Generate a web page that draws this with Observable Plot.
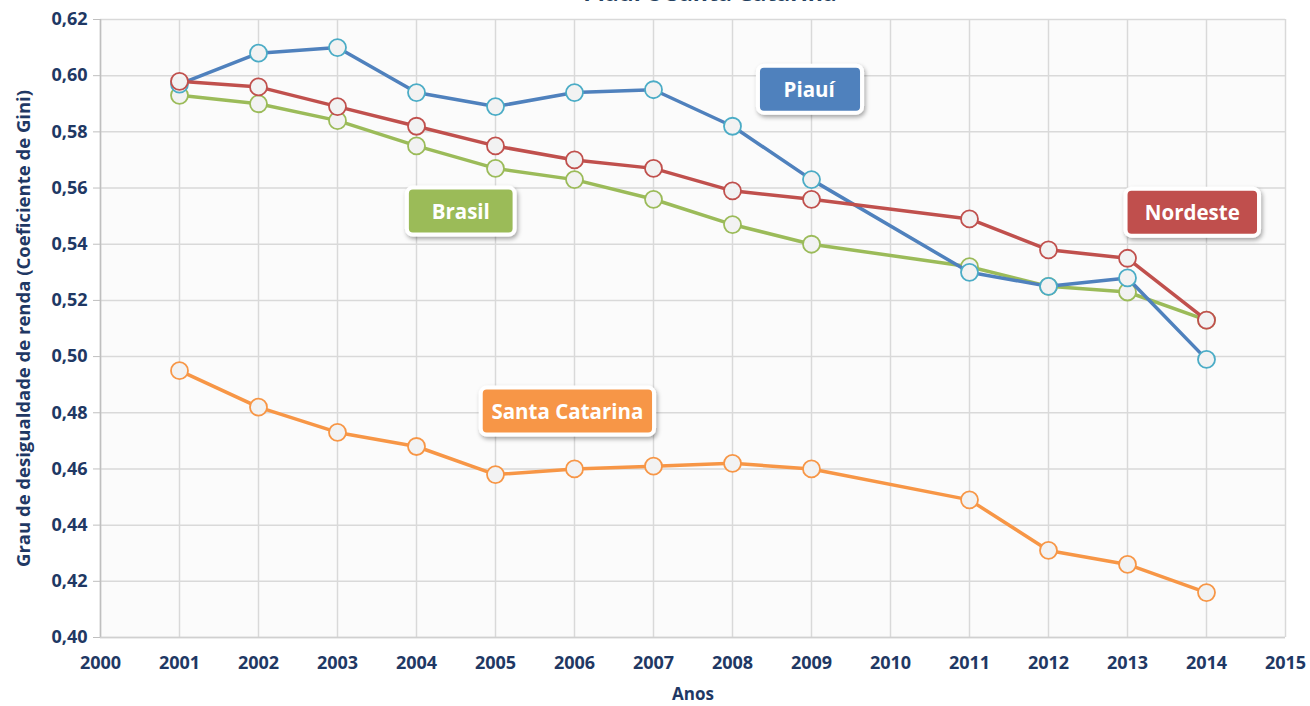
<!DOCTYPE html>
<html>
<head>
<meta charset="utf-8">
<script src="https://cdn.jsdelivr.net/npm/d3@7"></script>
<script src="https://cdn.jsdelivr.net/npm/@observablehq/plot@0.6"></script>
<style>
  html, body { margin: 0; padding: 0; background: #ffffff; overflow: hidden; }
  #wrap { position: relative; width: 1310px; height: 706px; }
  #title { position: absolute; top: -19px; left: 0; width: 1420px; text-align: center;
           font: bold 23px "Open Sans", sans-serif; color: #243F60; line-height: 23px; white-space: nowrap; }
  svg g[aria-label="y-axis tick label"] text,
  svg g[aria-label="x-axis tick label"] text { fill: #1F3864; font-size: 18px; font-weight: bold; }
  svg g[aria-label="y-axis label"] text,
  svg g[aria-label="x-axis label"] text { fill: #1F3864; font-size: 18.5px; font-weight: bold; }
  svg g[aria-label="x-axis label"] text { font-size: 17px; }
  svg g[aria-label="y-axis tick"] path { stroke: #bfbfbf; }
</style>
</head>
<body>
<div id="wrap">
  <div id="title">Piauí e Santa Catarina</div>
</div>
<script>
// ---- Data ----
const years = [2001, 2002, 2003, 2004, 2005, 2006, 2007, 2008, 2009, 2011, 2012, 2013, 2014];
const santaCatarina = [0.495, 0.482, 0.473, 0.468, 0.458, 0.460, 0.461, 0.462, 0.460, 0.449, 0.431, 0.426, 0.416];
const brasil        = [0.593, 0.590, 0.584, 0.575, 0.567, 0.563, 0.556, 0.547, 0.540, 0.532, 0.525, 0.523, 0.513];
const piaui         = [0.597, 0.608, 0.610, 0.594, 0.589, 0.594, 0.595, 0.582, 0.563, 0.530, 0.525, 0.528, 0.499];
const nordeste      = [0.598, 0.596, 0.589, 0.582, 0.575, 0.570, 0.567, 0.559, 0.556, 0.549, 0.538, 0.535, 0.513];

const seriesNames  = ["Santa Catarina", "Brasil", "Piauí", "Nordeste"];
const seriesValues = [santaCatarina, brasil, piaui, nordeste];
const lineColors   = ["#F79646", "#9BBB59", "#4F81BD", "#C0504D"];
const markerColors = ["#F79646", "#9BBB59", "#4BACC6", "#C0504D"];

const xTicks = [2000, 2001, 2002, 2003, 2004, 2005, 2006, 2007, 2008, 2009, 2010, 2011, 2012, 2013, 2014, 2015];
const yTicks = [0.40, 0.42, 0.44, 0.46, 0.48, 0.50, 0.52, 0.54, 0.56, 0.58, 0.60, 0.62];

// Series label boxes (anchored in data coordinates)
const labelNames  = ["Piauí", "Brasil", "Nordeste", "Santa Catarina"];
const labelYears  = [2008.97, 2004.56, 2013.82, 2005.91];
const labelValues = [0.5947, 0.5513, 0.5509, 0.4801];
const labelFills  = ["#4F81BD", "#9BBB59", "#C0504D", "#F79646"];

// ---- Build tables ----
const rows = [];
seriesNames.forEach((name, s) => {
  years.forEach((yr, i) => rows.push({series: name, year: yr, value: seriesValues[s][i]}));
});
const labels = labelNames.map((n, i) => ({name: n, year: labelYears[i], value: labelValues[i], fill: labelFills[i]}));

const seriesMarks = [];
seriesNames.forEach((name, s) => {
  const d = rows.filter(r => r.series === name);
  seriesMarks.push(Plot.line(d, {x: "year", y: "value", stroke: lineColors[s], strokeWidth: 3.5}));
  seriesMarks.push(Plot.dot(d, {x: "year", y: "value", r: 8.5, fill: "#F2F2F2", stroke: markerColors[s], strokeWidth: 1.8}));
});

const fmt = d => d.toFixed(2).replace(".", ",");

const chart = Plot.plot({
  width: 1310,
  height: 706,
  marginTop: 19,
  marginBottom: 69,
  marginLeft: 100,
  marginRight: 25,
  style: {fontFamily: "'Open Sans', sans-serif", background: "transparent", overflow: "visible"},
  x: {domain: [2000, 2015]},
  y: {domain: [0.40, 0.62]},
  marks: [
    Plot.frame({fill: "#FBFBFB", stroke: null}),
    Plot.gridX(xTicks, {stroke: "#D9D9D9", strokeOpacity: 1, strokeWidth: 1.5}),
    Plot.gridY(yTicks, {stroke: "#D9D9D9", strokeOpacity: 1, strokeWidth: 1.5}),
    Plot.ruleX([2000], {stroke: "#BFBFBF", strokeWidth: 1.5}),
    Plot.ruleY([0.40], {stroke: "#D0D0D0", strokeWidth: 1.5}),
    Plot.axisX(xTicks, {tickSize: 0, tickPadding: 19, tickFormat: d => String(d),
      label: "Anos", labelAnchor: "center", labelArrow: "none", labelOffset: 62}),
    Plot.axisY(yTicks, {tickSize: 7, tickPadding: 6, tickFormat: fmt,
      label: "Grau de desigualdade de renda (Coeficiente de Gini)", labelAnchor: "center", labelArrow: "none", labelOffset: 84}),
    ...seriesMarks,
    Plot.text(labels, {x: "year", y: "value", text: "name", fill: "white", fontWeight: "bold", fontSize: 20.5,
      render(index, scales, values, dimensions, context, next) {
        const g = next(index, scales, values, dimensions, context);
        g.setAttribute("data-anno", "1");
        return g;
      }})
  ]
});

document.getElementById("wrap").append(chart);

// Add rounded label boxes with white border and shadow behind the label texts
const svgNS = "http://www.w3.org/2000/svg";
const defs = document.createElementNS(svgNS, "defs");
defs.innerHTML = '<filter id="sh" x="-30%" y="-30%" width="160%" height="170%"><feDropShadow dx="1.5" dy="2.5" stdDeviation="2.2" flood-color="#000" flood-opacity="0.35"/></filter>';
chart.insertBefore(defs, chart.firstChild);
const annoG = chart.querySelector('g[data-anno="1"]');
if (annoG) {
  const texts = Array.from(annoG.querySelectorAll("text"));
  texts.forEach((t, i) => {
    const bb = t.getBBox();
    const w = bb.width * 0.7 + 67;
    const h = 47;
    const cx = bb.x + bb.width / 2;
    const cy = bb.y + bb.height / 2;
    const r = document.createElementNS(svgNS, "rect");
    r.setAttribute("x", cx - w / 2);
    r.setAttribute("y", cy - h / 2);
    r.setAttribute("width", w);
    r.setAttribute("height", h);
    r.setAttribute("rx", 6);
    r.setAttribute("fill", labels[i].fill);
    r.setAttribute("stroke", "white");
    r.setAttribute("stroke-width", 4);
    r.setAttribute("filter", "url(#sh)");
    const tr = t.getAttribute("transform");
    if (tr) r.setAttribute("transform", tr);
    annoG.insertBefore(r, t);
  });
}
</script>
</body>
</html>
